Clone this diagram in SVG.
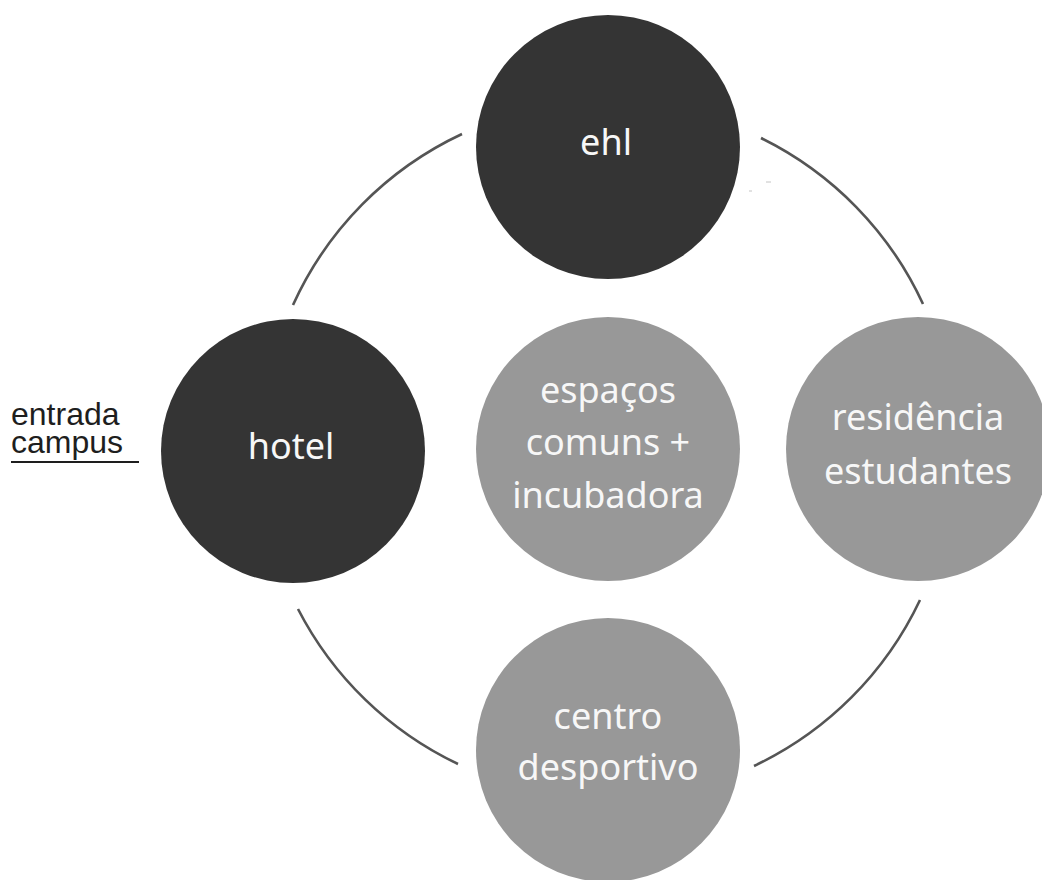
<svg xmlns="http://www.w3.org/2000/svg" width="1042" height="880" viewBox="0 0 1042 880">
<style>
.dark{fill:#343434}
.light{fill:#989898}
.lbl{font-family:"Noto Sans",sans-serif;font-size:36px;fill:#f7f7f7;text-anchor:middle}
.arc{fill:none;stroke:#555555;stroke-width:2.6;stroke-linecap:butt}
.side{font-family:"Liberation Sans",Arial,sans-serif;font-size:32px;fill:#1e1e1e}
</style>
<rect width="1042" height="880" fill="#ffffff"/>
<g id="connectors">
<path class="arc" d="M 293 305 A 347 347 0 0 1 462 134"/>
<path class="arc" d="M 761 138 A 347 347 0 0 1 923 304"/>
<path class="arc" d="M 920 600 A 348 348 0 0 1 754 766"/>
<path class="arc" d="M 458 764 A 348 348 0 0 1 298 609"/>
<line x1="766" y1="182" x2="771" y2="182" stroke="#c4c4c4" stroke-width="1"/>
<line x1="749" y1="191" x2="752" y2="191" stroke="#c4c4c4" stroke-width="1"/>
</g>
<g id="node-ehl">
<circle class="dark" cx="608" cy="147" r="132"/>
<text class="lbl" x="606" y="155">ehl</text>
</g>
<g id="node-hotel">
<circle class="dark" cx="293" cy="451" r="132"/>
<text class="lbl" x="291" y="459">hotel</text>
</g>
<g id="node-espacos">
<circle class="light" cx="608" cy="449" r="132"/>
<text class="lbl" x="608" y="403">espaços</text>
<text class="lbl" x="608" y="455">comuns +</text>
<text class="lbl" x="608" y="508">incubadora</text>
</g>
<g id="node-residencia">
<circle class="light" cx="918" cy="449" r="132"/>
<text class="lbl" x="918" y="430">residência</text>
<text class="lbl" x="918" y="484">estudantes</text>
</g>
<g id="node-centro">
<circle class="light" cx="608" cy="750" r="132"/>
<text class="lbl" x="608" y="729">centro</text>
<text class="lbl" x="608" y="780">desportivo</text>
</g>
<g id="entrada">
<text class="side"><tspan x="11" y="425">entrada</tspan><tspan x="11" y="453">campus</tspan></text>
<line x1="11" y1="462" x2="139" y2="462" stroke="#1e1e1e" stroke-width="2"/>
</g>
</svg>
